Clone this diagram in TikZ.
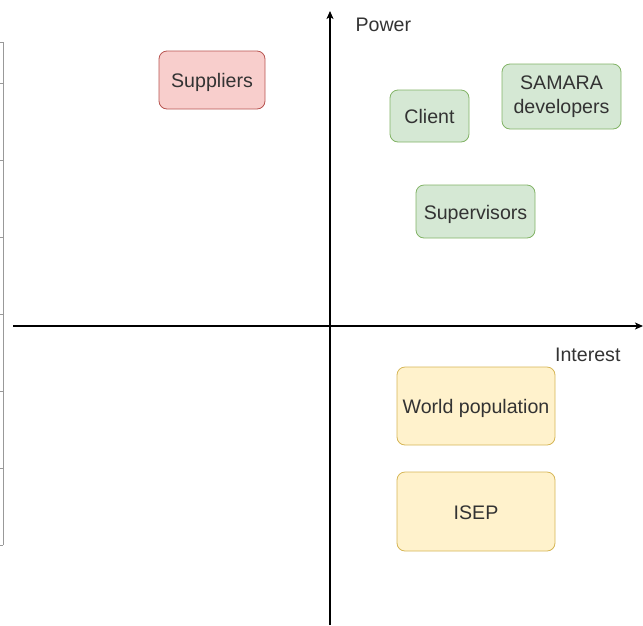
\documentclass[tikz,border=0pt]{standalone}
\usepackage{fontspec}
\setmainfont{Liberation Sans}
\usetikzlibrary{arrows.meta}

\definecolor{redfill}{HTML}{F8CECC}
\definecolor{redline}{HTML}{B85450}
\definecolor{greenfill}{HTML}{D5E8D4}
\definecolor{greenline}{HTML}{82B366}
\definecolor{yellowfill}{HTML}{FFF2CC}
\definecolor{yellowline}{HTML}{D6B656}
\definecolor{textgray}{HTML}{333333}

\tikzset{
	stakebox/.style={draw, rounded corners=8pt, line width=0.8pt, inner sep=0pt},
	oneline/.style={text height=16pt, text depth=1pt},
	axis/.style={line width=1.2pt, -{Stealth[length=8pt, width=7pt, inset=2pt]}}
}

\begin{document}
\begin{tikzpicture}[x=1pt, y=-1pt, every node/.style={font=\fontsize{19.6}{24}\selectfont, text=textgray, align=center}]
		\useasboundingbox (0,0) rectangle (643,625);

		% Cut-off table edge
		\draw[gray!80, line width=0.9pt] (3,42) -- (3,545);
		\foreach \ty in {42,83,160,237,314,391,468,545}
			\draw[gray!80, line width=0.9pt] (0,\ty) -- (3,\ty);

		% Axes
		\coordinate (powerlow) at (330,625);
		\coordinate (powerhigh) at (330,11);
		\coordinate (interestlow) at (13,326);
		\coordinate (interesthigh) at (643,326);
		\draw[axis] (powerlow) -- (powerhigh);
		\draw[axis] (interestlow) -- (interesthigh);
		\node[anchor=west] (power) at (352,25) {Power};
		\node[anchor=east] (interest) at (624,355) {Interest};

		% Stakeholders
		\node[stakebox, oneline, fill=redfill, draw=redline, minimum width=106pt, minimum height=58pt] (suppliers) at (212,80) {Suppliers};
		\node[stakebox, oneline, fill=greenfill, draw=greenline, minimum width=79pt, minimum height=52pt] (client) at (429.5,116) {Client};
		\node[stakebox, fill=greenfill, draw=greenline, minimum width=119pt, minimum height=65pt] (samara) at (561.5,96.5) {SAMARA\\developers};
		\node[stakebox, oneline, fill=greenfill, draw=greenline, minimum width=119pt, minimum height=53pt] (supervisors) at (475.5,211.5) {Supervisors};
		\node[stakebox, oneline, fill=yellowfill, draw=yellowline, minimum width=158pt, minimum height=78pt] (world) at (476,406) {World population};
		\node[stakebox, oneline, fill=yellowfill, draw=yellowline, minimum width=158pt, minimum height=79pt] (isep) at (476,511.5) {ISEP};
	\end{tikzpicture}
\end{document}
